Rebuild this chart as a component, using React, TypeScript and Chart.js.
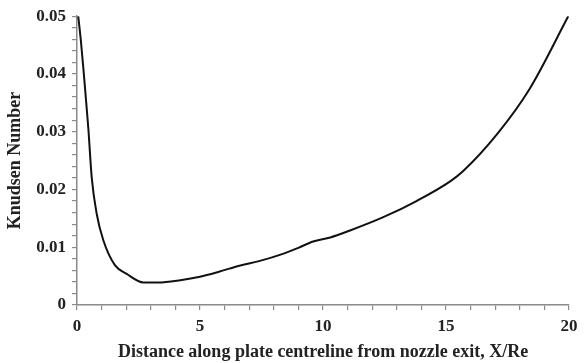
import React, { useEffect, useRef } from "react";
import { Chart, registerables } from "chart.js";

Chart.register(...registerables);

const xValues = [0.05, 0.15, 0.26, 0.36, 0.46, 0.6, 0.8, 1.07, 1.54, 2.02, 2.7, 3.3, 4.2, 5, 5.8, 6.6, 7.4, 8.4, 9.0, 9.6, 10.3, 11.1, 12.45, 13.8, 15.2, 15.7, 17.06, 18.41, 19.97];
const knudsen = [0.05, 0.0461, 0.0409, 0.0358, 0.0306, 0.022, 0.0158, 0.0112, 0.0069, 0.0054, 0.0039, 0.0039, 0.0043, 0.0049, 0.0058, 0.0068, 0.0076, 0.0089, 0.0099, 0.011, 0.0117, 0.0129, 0.0152, 0.018, 0.0215, 0.0232, 0.0295, 0.0375, 0.05];

const xTitle = "Distance along plate centreline from nozzle exit, X/Re";
const yTitle = "Knudsen Number";

export default function App() {
  const ref = useRef<HTMLCanvasElement>(null);

  useEffect(() => {
    document.body.style.margin = "0";
    const canvas = ref.current;
    if (!canvas) return;
    const font = "'Liberation Serif', 'Times New Roman', serif";
    const axisColor = "#8a8a8a";
    const chart = new Chart(canvas, {
      type: "line",
      data: {
        datasets: [
          {
            data: xValues.map((x, i) => ({ x, y: knudsen[i] })),
            borderColor: "#111",
            borderWidth: 2,
            pointRadius: 0,
            tension: 0.3,
            cubicInterpolationMode: "monotone",
            fill: false,
          },
        ],
      },
      options: {
        animation: false,
        responsive: false,
        layout: { padding: { top: 14, right: 16, left: 0, bottom: 0 } },
        plugins: { legend: { display: false }, tooltip: { enabled: false } },
        scales: {
          x: {
            type: "linear",
            min: 0,
            max: 20,
            afterFit: (s: any) => {
              s.height = 58;
            },
            border: { color: axisColor, width: 1.5 },
            grid: { drawOnChartArea: false, tickLength: 5, color: axisColor, lineWidth: 1.2 },
            ticks: {
              stepSize: 1,
              autoSkip: false,
              maxRotation: 0,
              padding: 6,
              color: "#222",
              font: { family: font, size: 17, weight: "bold" },
              callback: (v: any) => (Math.round(v) % 5 === 0 ? String(Math.round(v)) : ""),
            },
            title: {
              display: true,
              text: xTitle,
              color: "#222",
              font: { family: font, size: 18, weight: "bold" },
              padding: { top: 2, bottom: 0 },
            },
          },
          y: {
            min: 0,
            max: 0.05,
            afterFit: (s: any) => {
              s.width = 77;
            },
            border: { color: axisColor, width: 1.5 },
            grid: { drawOnChartArea: false, tickLength: 5, color: axisColor, lineWidth: 1.2 },
            ticks: {
              stepSize: 0.002,
              autoSkip: false,
              padding: 6,
              color: "#222",
              font: { family: font, size: 17, weight: "bold" },
              callback: (v: any) => {
                const k = Math.round(v * 500);
                if (k % 5 !== 0) return "";
                return k === 0 ? "0" : (k / 500).toFixed(2);
              },
            },
            title: {
              display: true,
              text: yTitle,
              color: "#222",
              font: { family: font, size: 18, weight: "bold" },
              padding: { top: 5, bottom: 0 },
            },
          },
        },
      },
    } as any);
    return () => chart.destroy();
  }, []);

  return (
    <div style={{ width: 585, height: 363 }}>
      <canvas ref={ref} width={585} height={363} style={{ display: "block" }} />
    </div>
  );
}
